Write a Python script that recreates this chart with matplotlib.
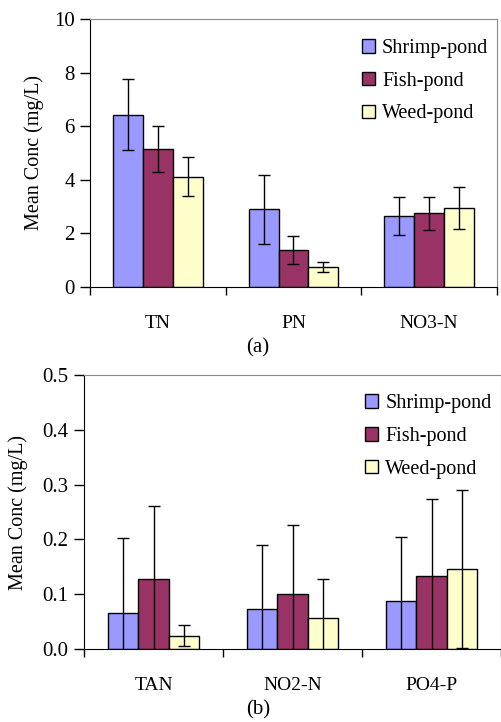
import numpy as np
import matplotlib
matplotlib.use("Agg")
import matplotlib.pyplot as plt
from matplotlib.patches import Patch

plt.rcParams['font.family'] = ['Liberation Serif', 'DejaVu Serif']

SERIES = ['Shrimp-pond', 'Fish-pond', 'Weed-pond']
COLORS = ['#9999FF', '#993366', '#FFFFCC']

# panel (a)
cats_a = ['TN', 'PN', 'NO3-N']
mean_a = [[6.43, 2.90, 2.65],
          [5.14, 1.38, 2.75],
          [4.12, 0.75, 2.95]]
err_a = [[1.33, 1.28, 0.72],
         [0.86, 0.54, 0.62],
         [0.72, 0.19, 0.78]]

# panel (b)
cats_b = ['TAN', 'NO2-N', 'PO4-P']
mean_b = [[0.066, 0.073, 0.088],
          [0.127, 0.100, 0.134],
          [0.024, 0.056, 0.146]]
err_b = [[0.136, 0.117, 0.117],
         [0.134, 0.127, 0.139],
         [0.019, 0.071, 0.144]]


def draw_panel(ax, cats, means, errs, ymax, yticks, yfmt, leg_anchor, ylab_x):
    x = np.arange(len(cats))
    w = 0.22
    for i in range(len(SERIES)):
        ax.bar(x + (i - 1) * w, means[i], w, color=COLORS[i], edgecolor='black',
               linewidth=1, label=SERIES[i], zorder=2)
        ax.errorbar(x + (i - 1) * w, means[i], yerr=errs[i], fmt='none',
                    ecolor='black', elinewidth=1, capsize=4, capthick=1, zorder=3)
    ax.set_xlim(-0.5, 2.5)
    ax.set_ylim(0, ymax)
    ax.set_yticks(yticks)
    ax.set_yticklabels([yfmt % v for v in yticks])
    ax.set_xticks(x)
    ax.set_xticklabels(cats, fontsize=14)
    ax.set_xticks([-0.5, 0.5, 1.5, 2.5], minor=True)
    ax.tick_params(axis='x', which='major', length=0, pad=20)
    ax.tick_params(axis='x', which='minor', length=6, direction='out', width=1)
    ax.tick_params(axis='y', length=7, width=1, direction='out', labelsize=15, pad=4)
    ax.spines['left'].set_color('black')
    ax.spines['bottom'].set_color('black')
    ax.spines['top'].set_color('#8c8c8c')
    ax.spines['right'].set_color('#8c8c8c')
    ax.set_ylabel('Mean Conc (mg/L)', fontsize=14.5)
    ax.yaxis.set_label_coords(ylab_x, 0.5)
    handles = [Patch(facecolor=c, edgecolor='black', linewidth=1) for c in COLORS]
    ax.legend(handles, SERIES, loc='upper left', bbox_to_anchor=leg_anchor,
              frameon=False, fontsize=14.5, handlelength=0.65, handleheight=0.65,
              handletextpad=0.35, labelspacing=0.68, borderpad=0, borderaxespad=0)


fig = plt.figure(figsize=(5.01, 7.22), dpi=100)
ax1 = fig.add_axes([0.1796, 0.6025, 0.8124, 0.3712])
ax2 = fig.add_axes([0.1677, 0.1011, 0.8323, 0.3795])

draw_panel(ax1, cats_a, mean_a, err_a, 10, [0, 2, 4, 6, 8, 10], '%d',
           (0.668, 0.925), -0.113)
draw_panel(ax2, cats_b, mean_b, err_b, 0.5, [0.0, 0.1, 0.2, 0.3, 0.4, 0.5], '%.1f',
           (0.674, 0.93), -0.134)

fig.text(0.515, 1 - 348 / 722, '(a)', ha='center', va='center', fontsize=15)
fig.text(0.515, 1 - 710 / 722, '(b)', ha='center', va='center', fontsize=15)

fig.savefig('out.png', dpi=100)
